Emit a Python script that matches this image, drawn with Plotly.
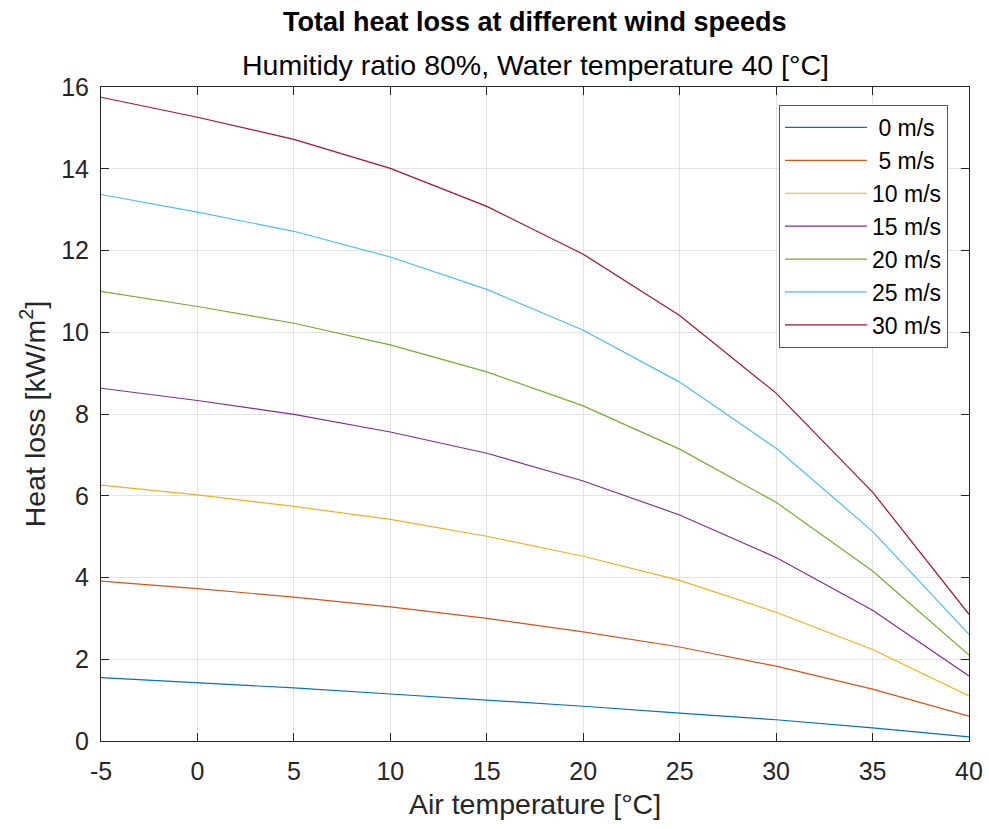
import plotly.graph_objects as go

air_temp = [-5, 0, 5, 10, 15, 20, 25, 30, 35, 40]
x_tick_text = ["-5", "0", "5", "10", "15", "20", "25", "30", "35", "40"]
speed_labels = ["0 m/s", "5 m/s", "10 m/s", "15 m/s", "20 m/s", "25 m/s", "30 m/s"]

loss_0 = [1.55, 1.43, 1.30, 1.15, 1.00, 0.85, 0.68, 0.52, 0.32, 0.10]
loss_5 = [3.91, 3.73, 3.52, 3.28, 3.00, 2.67, 2.30, 1.83, 1.27, 0.61]
loss_10 = [6.26, 6.02, 5.74, 5.42, 5.01, 4.52, 3.93, 3.15, 2.24, 1.10]
loss_15 = [8.63, 8.33, 7.99, 7.56, 7.04, 6.36, 5.53, 4.49, 3.20, 1.59]
loss_20 = [11.00, 10.63, 10.22, 9.69, 9.03, 8.20, 7.14, 5.84, 4.16, 2.10]
loss_25 = [13.37, 12.94, 12.47, 11.84, 11.05, 10.05, 8.78, 7.16, 5.13, 2.61]
loss_30 = [15.75, 15.26, 14.72, 14.01, 13.08, 11.91, 10.41, 8.51, 6.09, 3.10]

series = [loss_0, loss_5, loss_10, loss_15, loss_20, loss_25, loss_30]
colors = ["#0072BD", "#D95319", "#EDB120", "#7E2F8E", "#77AC30", "#4DBEEE", "#A2142F"]

FONT = "Liberation Sans, Arial, sans-serif"

fig = go.Figure()
for i, (lab, ys, c) in enumerate(zip(speed_labels, series, colors)):
    name = lab if len(lab) == 6 else "\u2008" + lab
    fig.add_trace(go.Scatter(x=air_temp, y=ys, mode="lines", name=name,
                             legendgroup=f"g{i}",
                             line=dict(color=c, width=1.2)))

axis_common = dict(
    showline=True, linecolor="#262626", linewidth=1, mirror="ticks",
    ticks="inside", ticklen=8, tickcolor="#262626", tickwidth=1,
    showgrid=True, gridcolor="#e3e3e3", gridwidth=1, zeroline=False,
    automargin=False,
    tickfont=dict(family=FONT, size=25, color="#262626"),
)

fig.update_layout(
    width=989, height=829,
    paper_bgcolor="white", plot_bgcolor="white",
    margin=dict(l=101, r=20, t=87, b=88),
    font=dict(family=FONT, color="#262626"),
    xaxis=dict(range=[-5, 40], tickvals=air_temp, ticktext=x_tick_text,
               ticklabelstandoff=8,
               title=dict(text="Air temperature [°C]", font=dict(size=28.5, color="#262626"), standoff=10),
               **axis_common),
    yaxis=dict(range=[0, 16], tickvals=list(range(0, 18, 2)),
               ticklabelstandoff=6,
               title=dict(text="Heat loss [kW/m<sup>2</sup>]", font=dict(size=28.5, color="#262626"), standoff=7),
               **axis_common),
    legend=dict(
        x=0.9758, y=0.9725, xanchor="right", yanchor="top",
        bgcolor="white", bordercolor="#555555", borderwidth=1,
        font=dict(size=23, color="#000000", family=FONT),
        tracegroupgap=0, itemwidth=82,
    ),
    showlegend=True,
    annotations=[
        dict(text="<b>Total heat loss at different wind speeds</b>", xref="paper", yref="paper",
             x=0.5, y=1.0994, xanchor="center", yanchor="middle", showarrow=False,
             font=dict(size=27, color="#000000", family=FONT)),
        dict(text="Humitidy ratio 80%, Water temperature 40 [°C]", xref="paper", yref="paper",
             x=0.5, y=1.0336, xanchor="center", yanchor="middle", showarrow=False,
             font=dict(size=28.5, color="#000000", family=FONT)),
    ],
)

fig.write_html("out.html")
